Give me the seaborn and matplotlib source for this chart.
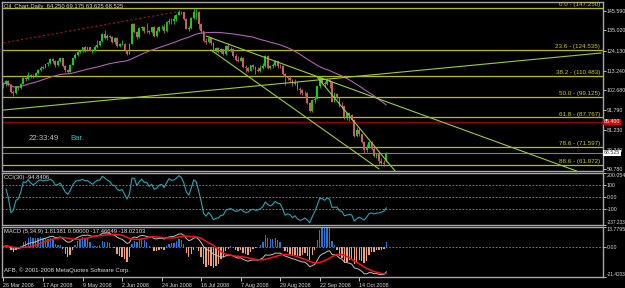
import numpy as np
import pandas as pd
import matplotlib
matplotlib.use("Agg")
from matplotlib import pyplot as plt
import seaborn as sns

# daily bars 26 Mar 2008 .. 29 Oct 2008 (bar 0 .. 155)
opens = [104.9, 105.9, 107.6, 105.6, 101.6, 101.0, 104.8, 103.9, 106.2, 109.1,
         108.5, 110.9, 110.1, 110.1, 111.8, 113.8, 114.9, 114.9, 116.7, 117.5,
         119.4, 118.3, 116.1, 118.5, 119.8, 115.6, 113.5, 112.5, 116.3, 120.0,
         121.8, 123.5, 123.7, 126.0, 124.2, 125.8, 124.1, 124.1, 126.3, 127.1,
         129.1, 133.2, 130.8, 132.2, 131.5, 128.9, 131.0, 126.6, 127.4, 127.8,
         124.3, 122.3, 127.8, 138.5, 134.4, 131.3, 136.4, 136.8, 134.9, 134.6,
         134.0, 136.7, 131.9, 134.6, 136.7, 136.8, 134.6, 139.6, 140.2, 140.0,
         141.0, 143.6, 145.3, 144.8, 141.4, 136.0, 136.1, 141.7, 145.1, 145.2,
         138.7, 134.6, 129.3, 128.9, 131.0, 128.0, 124.4, 125.5, 123.3, 124.7,
         122.2, 126.8, 124.1, 125.1, 121.4, 119.2, 118.6, 120.0, 115.2, 114.5,
         113.0, 116.0, 115.0, 113.8, 112.9, 114.5, 115.6, 121.2, 114.6, 115.5,
         116.3, 118.2, 115.6, 115.5, 111.5, 109.7, 109.4, 107.9, 106.2, 106.3,
         103.3, 102.6, 100.9, 101.2, 95.7, 91.2, 97.2, 97.9, 104.6, 109.4,
         106.6, 105.7, 108.0, 106.9, 96.4, 100.6, 98.5, 94.0, 93.9, 87.8,
         90.1, 89.0, 86.6, 77.7, 81.2, 78.6, 74.5, 69.9, 71.9, 74.3,
         70.9, 66.8, 67.8, 64.2, 63.2, 64.25]
highs = [106.8, 108.3, 108.0, 106.2, 102.6, 105.0, 105.1, 106.5, 109.6, 109.7,
         112.2, 111.4, 111.3, 112.2, 114.1, 115.5, 115.5, 117.0, 117.8, 119.9,
         120.1, 118.9, 119.0, 120.1, 119.9, 116.5, 113.9, 116.8, 120.3, 122.7,
         124.0, 124.6, 126.2, 126.4, 126.2, 126.2, 125.0, 127.0, 129.6, 129.5,
         133.8, 135.1, 133.0, 132.6, 132.0, 131.6, 131.2, 128.2, 129.8, 128.0,
         124.6, 128.1, 139.1, 138.9, 134.7, 136.8, 137.3, 137.0, 139.0, 135.3,
         137.0, 137.3, 136.8, 137.5, 138.0, 138.3, 140.0, 142.0, 141.6, 143.3,
         143.8, 145.9, 145.6, 145.2, 141.6, 137.5, 142.2, 147.25, 146.7, 145.5,
         139.2, 134.9, 131.0, 131.9, 131.3, 128.5, 126.3, 125.9, 125.4, 125.0,
         127.3, 128.0, 126.1, 125.5, 122.2, 121.0, 121.4, 120.5, 116.4, 115.1,
         116.5, 116.9, 115.6, 115.2, 116.0, 117.1, 121.8, 121.5, 116.5, 117.2,
         119.0, 118.5, 117.0, 116.0, 112.1, 110.2, 110.2, 108.5, 108.9, 107.0,
         104.1, 103.0, 101.9, 101.5, 96.2, 97.6, 99.5, 105.0, 110.5, 109.9,
         107.4, 109.0, 108.4, 107.0, 101.4, 101.0, 99.0, 96.0, 94.1, 90.6,
         91.0, 89.6, 87.0, 82.4, 82.6, 79.0, 75.2, 73.5, 75.0, 74.9,
         71.6, 68.3, 68.2, 65.5, 64.5, 69.175]
lows = [103.8, 105.1, 104.8, 101.0, 99.6, 100.6, 102.6, 103.3, 105.8, 107.7,
        108.1, 109.1, 109.2, 109.8, 111.2, 112.9, 113.9, 114.5, 115.8, 116.9,
        117.6, 115.1, 115.7, 117.9, 115.2, 112.3, 111.8, 112.3, 116.0, 119.5,
        121.3, 122.6, 123.3, 123.4, 123.8, 123.7, 122.6, 123.8, 125.6, 126.4,
        128.8, 130.3, 130.0, 130.9, 128.2, 127.4, 125.9, 125.9, 126.9, 123.9,
        121.6, 122.1, 127.6, 133.6, 130.3, 131.0, 135.2, 133.8, 133.9, 133.2,
        133.5, 131.4, 131.4, 134.2, 135.7, 133.8, 134.2, 138.8, 138.8, 138.3,
        140.2, 143.2, 144.0, 140.8, 135.6, 134.7, 135.8, 141.2, 141.3, 135.9,
        133.9, 129.0, 127.9, 128.4, 127.3, 124.0, 123.5, 122.9, 122.6, 121.8,
        121.6, 123.6, 123.4, 120.6, 118.6, 117.8, 118.3, 114.6, 112.3, 112.5,
        112.8, 114.0, 111.3, 112.2, 112.3, 114.0, 115.2, 114.3, 113.9, 114.6,
        115.9, 114.9, 114.9, 110.8, 105.5, 108.3, 107.2, 104.6, 105.3, 102.8,
        100.6, 100.1, 99.4, 95.1, 90.5, 90.9, 95.8, 97.6, 103.8, 105.8,
        104.5, 105.3, 104.0, 95.9, 96.1, 97.6, 93.5, 92.6, 87.0, 86.5,
        85.6, 85.6, 77.0, 77.3, 77.9, 73.9, 68.6, 68.9, 71.2, 70.1,
        66.2, 65.7, 62.5, 62.6, 61.3, 63.625]
closes = [105.9, 107.6, 105.6, 101.6, 101.0, 104.8, 103.9, 106.2, 109.1, 108.5,
          110.9, 110.1, 110.1, 111.8, 113.8, 114.9, 114.9, 116.7, 117.5, 119.4,
          118.3, 116.1, 118.5, 119.8, 115.6, 113.5, 112.5, 116.3, 120.0, 121.8,
          123.5, 123.7, 126.0, 124.2, 125.8, 124.1, 124.1, 126.3, 127.1, 129.1,
          133.2, 130.8, 132.2, 131.5, 128.9, 131.0, 126.6, 127.4, 127.8, 124.3,
          122.3, 127.8, 138.5, 134.4, 131.3, 136.4, 136.8, 134.9, 134.6, 134.0,
          136.7, 131.9, 134.6, 136.7, 136.8, 134.6, 139.6, 140.2, 140.0, 141.0,
          143.6, 145.3, 144.8, 141.4, 136.0, 136.1, 141.7, 145.1, 145.2, 138.7,
          134.6, 129.3, 128.9, 131.0, 128.0, 124.4, 125.5, 123.3, 124.7, 122.2,
          126.8, 124.1, 125.1, 121.4, 119.2, 118.6, 120.0, 115.2, 114.5, 113.0,
          116.0, 115.0, 113.8, 112.9, 114.5, 115.6, 121.2, 114.6, 115.5, 116.3,
          118.2, 115.6, 115.5, 111.5, 109.7, 109.4, 107.9, 106.2, 106.3, 103.3,
          102.6, 100.9, 101.2, 95.7, 91.2, 97.2, 97.9, 104.6, 109.4, 106.6,
          105.7, 108.0, 106.9, 96.4, 100.6, 98.5, 94.0, 93.9, 87.8, 90.1,
          89.0, 86.6, 77.7, 81.2, 78.6, 74.5, 69.9, 71.9, 74.3, 70.9,
          66.8, 67.8, 64.2, 63.2, 62.7, 68.525]

date_ticks = [0, 16, 32, 48, 64, 80, 96, 112, 128, 144]
date_labels = ['26 Mar 2008', '17 Apr 2008', '9 May 2008', '2 Jun 2008', '24 Jun 2008',
               '16 Jul 2008', '7 Aug 2008', '29 Aug 2008', '22 Sep 2008', '14 Oct 2008']

price_ticks = [59.780, 70.340, 81.230, 91.790, 102.680, 113.240, 124.130, 135.020, 145.590]
cci_ticks = [-237.233, -100, 0, 100, 200.054]
cci_labels = ['-237.233', '-100', '0.00', '100', '200.054']
macd_ticks = [-21.4203, 0, 13.7795]
macd_labels = ['-21.4203', '0.00', '13.7795']

fib_levels = ['0.0', '23.6', '38.2', '50.0', '61.8', '78.6', '88.6']
fib_prices = [147.250, 124.535, 110.483, 99.125, 87.767, 71.597, 61.972]

# trend line anchors (bar, price)
red_line = ([0, 70], [128.3, 145.1])
long_line = ([0, 242], [91.8, 122.8])
fall_a = ([82, 232], [132.0, 58.7])
fall_b = ([84, 152], [124.4, 59.8])
fall_c = ([127, 158.5], [109.7, 58.7])

stop_price = 85.400
bid_price = 68.525

df = pd.DataFrame({'bar': np.arange(len(closes)), 'open': opens, 'high': highs,
                   'low': lows, 'close': closes})
df['ma'] = df['close'].rolling(50, min_periods=1).mean()
tp = (df['high'] + df['low'] + df['close']) / 3
tp_mean = tp.rolling(30, min_periods=1).mean()
tp_dev = tp.rolling(30, min_periods=1).apply(lambda w: np.abs(w - w.mean()).mean(), raw=True)
df['cci'] = (tp - tp_mean) / (0.015 * tp_dev)
df['macd'] = df['close'].ewm(span=5, adjust=False).mean() - df['close'].ewm(span=34, adjust=False).mean()
df['signal'] = df['macd'].rolling(9, min_periods=1).mean()
df['hist'] = 2.5 * (df['macd'] - df['signal'])

sns.set_theme(style="ticks", rc={"axes.facecolor": "black", "figure.facecolor": "black"})
plt.rcParams['font.family'] = ['Liberation Sans', 'DejaVu Sans']

txt = '#dcdcdc'
fib_col = '#bcbc00'
green = '#9acd32'

fig = plt.figure(figsize=(6.25, 2.88), dpi=100)
ax = fig.add_axes([2 / 625, 1 - 171 / 288, 601 / 625, 169 / 288])
ax_cci = fig.add_axes([2 / 625, 1 - 225 / 288, 601 / 625, 52 / 288])
ax_macd = fig.add_axes([2 / 625, 1 - 277 / 288, 601 / 625, 50 / 288])

# price panel
for lvl, p in zip(fib_levels, fib_prices):
    ax.axhline(p, color=fib_col, lw=0.9, zorder=1)
    ax.text(0.995, p + 0.4, f"{lvl} - ({p:.3f})", transform=ax.get_yaxis_transform(),
            ha='right', va='bottom', fontsize=4.5, color='#d2d200')
ax.axhline(stop_price, color='#900000', lw=1.0, zorder=1)
ax.axhline(bid_price, color='#808080', lw=0.8, zorder=1)

up = df['close'] >= df['open']
cols = np.where(up, '#10d010', '#c86060')
ax.vlines(df['bar'], df['low'], df['high'], colors=cols, lw=0.6, zorder=3)
ax.bar(df['bar'], (df['close'] - df['open']).abs().clip(lower=0.2),
       bottom=df[['open', 'close']].min(axis=1), width=0.75, color=cols, lw=0, zorder=3)
sns.lineplot(data=df, x='bar', y='ma', ax=ax, color='#b060b8', lw=0.8, zorder=2)

ax.plot(*red_line, color='#a01818', lw=0.8, ls=(0, (2, 2)), zorder=2)
for line in (long_line, fall_a, fall_b, fall_c):
    ax.plot(*line, color=green, lw=0.8, zorder=4)

ax.text(0.004, 0.99, 'Oil_Chart,Daily  64.250 69.175 63.625 68.525', transform=ax.transAxes,
        ha='left', va='top', fontsize=4.2, color=txt)
ax.text(0.045, 0.19, '22:33:49', transform=ax.transAxes, ha='left', va='center',
        fontsize=5.6, color='#c0c0c0')
ax.text(0.113, 0.19, 'Bar.', transform=ax.transAxes, ha='left', va='center',
        fontsize=5.6, color='#20c0c8')
ax.text(1.002, stop_price, f"{stop_price:.3f}", transform=ax.get_yaxis_transform(),
        ha='left', va='center', fontsize=3.8, color='white', clip_on=False, zorder=10,
        bbox=dict(boxstyle='square,pad=0.15', fc='#e00000', ec='none'))
ax.text(1.002, bid_price, f"{bid_price:.3f}", transform=ax.get_yaxis_transform(),
        ha='left', va='center', fontsize=3.8, color='#303030', clip_on=False, zorder=10,
        bbox=dict(boxstyle='square,pad=0.15', fc='white', ec='none'))
ax.set_ylim(58.69, 150.48)
ax.set_yticks(price_ticks)
ax.set_yticklabels([f"{v:.3f}" for v in price_ticks])

# CCI panel
for lv in (100, 0, -100):
    ax_cci.axhline(lv, color='#909090', lw=0.6, ls=(0, (2, 2)))
sns.lineplot(data=df, x='bar', y='cci', ax=ax_cci, color='#26a5b5', lw=0.8)
ax_cci.text(0.004, 0.96, 'CCI(30) -94.8406', transform=ax_cci.transAxes,
            ha='left', va='top', fontsize=4.2, color=txt)
ax_cci.set_ylim(-237.233, 200.054)
ax_cci.set_yticks(cci_ticks)
ax_cci.set_yticklabels(cci_labels)

# MACD panel
ax_macd.axhline(0, color='#909090', lw=0.6, ls=(0, (2, 2)))
hcols = np.where(df['hist'] >= 0, '#1e7ad8', '#f4a074')
ax_macd.bar(df['bar'], df['hist'], width=0.55, color=hcols, lw=0)
sns.lineplot(data=df, x='bar', y='macd', ax=ax_macd, color='#c0c0c0', lw=0.7)
sns.lineplot(data=df, x='bar', y='signal', ax=ax_macd, color='#ff1010', lw=1.1)
ax_macd.text(0.004, 0.96, 'MACD (5,34,9) 1.81381 0.00000 -17.46649 -18.02103',
             transform=ax_macd.transAxes, ha='left', va='top', fontsize=4.2, color=txt)
ax_macd.text(0.004, 0.14, 'AFB, \u00a9 2001-2008 MetaQuotes Software Corp.',
             transform=ax_macd.transAxes, ha='left', va='center', fontsize=4.3, color=txt)
ax_macd.set_ylim(-21.4203, 13.7795)
ax_macd.set_yticks(macd_ticks)
ax_macd.set_yticklabels(macd_labels)

for a in (ax, ax_cci, ax_macd):
    a.set_xlim(-0.6, 242.7)
    a.set_xlabel('')
    a.set_ylabel('')
    a.yaxis.tick_right()
    a.tick_params(axis='y', labelsize=3.8, colors=txt, length=2, width=0.6, pad=0.6)
    for s in a.spines.values():
        s.set_color('#a8a8a8')
        s.set_linewidth(1.0)

# edge labels of the indicator panels sit inside the panel, as in the terminal
for a in (ax_cci, ax_macd):
    labs = a.get_yticklabels()
    labs[0].set_va('bottom')
    labs[0].set_fontsize(3.4)
    labs[-1].set_va('top')

ax.set_xticks([])
ax_cci.set_xticks([])
ax_macd.set_xticks(date_ticks)
ax_macd.set_xticklabels(date_labels, ha='left')
ax_macd.tick_params(axis='x', labelsize=3.9, colors=txt, length=3, width=0.6, pad=1)

fig.savefig('out.png', dpi=100, facecolor='black')
